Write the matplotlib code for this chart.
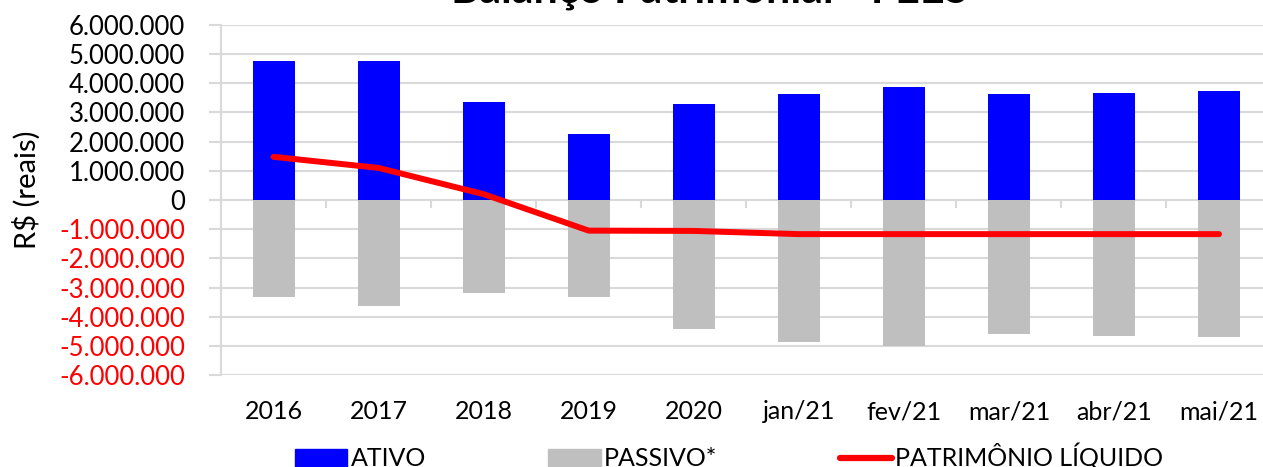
import matplotlib
matplotlib.use("Agg")
import matplotlib.pyplot as plt
import numpy as np
from matplotlib.ticker import FixedLocator, FuncFormatter
from matplotlib.patches import Patch
from matplotlib.lines import Line2D

categories = ["2016", "2017", "2018", "2019", "2020", "jan/21", "fev/21", "mar/21", "abr/21", "mai/21"]
ativo = [4780000, 4780000, 3370000, 2250000, 3300000, 3650000, 3860000, 3620000, 3680000, 3750000]
passivo = [-3330000, -3650000, -3190000, -3310000, -4410000, -4860000, -4990000, -4610000, -4660000, -4690000]
patrimonio = [1480000, 1100000, 200000, -1050000, -1060000, -1170000, -1170000, -1170000, -1170000, -1170000]
yticks = [6000000, 5000000, 4000000, 3000000, 2000000, 1000000, 0,
          -1000000, -2000000, -3000000, -4000000, -5000000, -6000000]

plt.rcParams['font.family'] = ['Lato', 'DejaVu Sans']

W, H = 1263, 467
fig = plt.figure(figsize=(W / 100, H / 100), dpi=100)
ax = fig.add_axes([221 / W, 1 - 375 / H, (1271.5 - 221) / W, 350 / H])

x = np.arange(len(categories))
ax.bar(x, ativo, width=0.4, color="#0000FF", zorder=3)
ax.bar(x, passivo, width=0.4, color="#BFBFBF", zorder=3)
ax.plot(x, patrimonio, color="#FF0000", lw=4.3, solid_capstyle="round", zorder=4)

ax.set_xlim(-0.5, len(categories) - 0.5)
ax.set_ylim(-6000000, 6000000)
ax.yaxis.set_major_locator(FixedLocator(yticks))

def fmt(v, pos):
    if v == 0:
        return "0"
    s = f"{abs(int(v)):,}".replace(",", ".")
    return ("-" if v < 0 else "") + s

ax.yaxis.set_major_formatter(FuncFormatter(fmt))
ax.grid(axis="y", color="#D9D9D9", lw=1.5, zorder=0)
ax.tick_params(axis="y", length=9, width=1.5, color="#D9D9D9", pad=17, labelsize=18.5)
ax.figure.canvas.draw()
for lbl in ax.get_yticklabels():
    if lbl.get_text().startswith("-"):
        lbl.set_color("#FF0000")

ax.set_xticks(x)
ax.set_xticklabels(categories)
ax.tick_params(axis="x", length=0, pad=18, labelsize=18)

# category separator ticks on zero line
ax.vlines(x[:-1] + 0.5, -270000, 0, color="#D9D9D9", lw=1.5, zorder=2)

for s in ["top", "right", "bottom"]:
    ax.spines[s].set_visible(False)
ax.spines["left"].set_color("#D9D9D9")
ax.spines["left"].set_linewidth(1.5)

fig.text(27 / W, 1 - 190 / H, "R$ (reais)", rotation=90, va="center", ha="center", fontsize=21)

fig.text(710 / W, 1 - 2 / H, "Balanço Patrimonial - FEES", ha="center", va="baseline",
         fontsize=31, fontweight="bold")

handles = [Patch(color="#0000FF"), Patch(color="#BFBFBF"),
           Line2D([0], [0], color="#FF0000", lw=4.5, solid_capstyle="round")]
labels = ["ATIVO", "PASSIVO*", "PATRIMÔNIO LÍQUIDO"]
fig.legend(handles, labels, loc="center", bbox_to_anchor=(729 / W, 1 - 457 / H), ncol=3,
           frameon=False, fontsize=18, handlelength=2.1, handletextpad=0.12,
           columnspacing=4.9, borderpad=0, borderaxespad=0)

fig.savefig("out.png", dpi=100)
